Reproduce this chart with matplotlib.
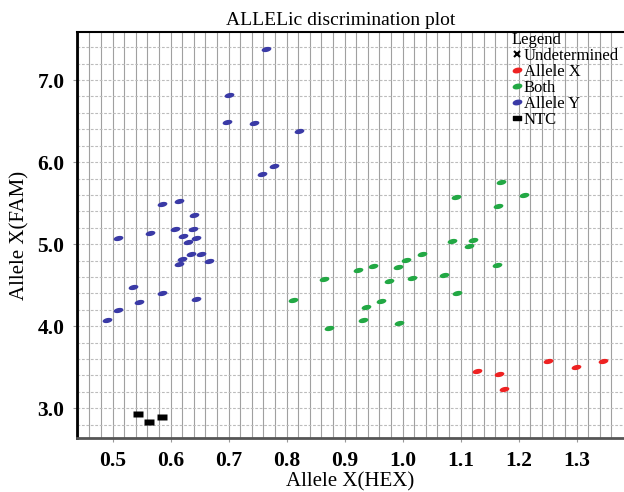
import numpy as np
import matplotlib.pyplot as plt
from matplotlib.path import Path
from matplotlib.lines import Line2D

# data
allele_y_x = [0.764, 0.700, 0.697, 0.743, 0.821, 0.758, 0.778, 0.586, 0.614, 0.640,
              0.510, 0.564, 0.607, 0.639, 0.622, 0.643, 0.630, 0.635, 0.652, 0.619,
              0.614, 0.667, 0.535, 0.585, 0.546, 0.643, 0.510, 0.491]
allele_y_y = [7.38, 6.82, 6.49, 6.48, 6.38, 5.86, 5.95, 5.49, 5.53, 5.35,
              5.07, 5.13, 5.19, 5.19, 5.10, 5.08, 5.03, 4.88, 4.88, 4.82,
              4.76, 4.79, 4.48, 4.41, 4.30, 4.33, 4.20, 4.08]

both_x = [1.170, 1.092, 1.210, 1.165, 1.086, 1.121, 1.115, 1.163, 1.034, 1.005,
          0.992, 0.949, 0.923, 0.976, 1.017, 1.071, 1.094, 0.864, 0.962, 0.937,
          0.931, 0.993, 0.873, 0.811]
both_y = [5.76, 5.58, 5.60, 5.47, 5.04, 5.05, 4.98, 4.74, 4.88, 4.81,
          4.72, 4.73, 4.69, 4.55, 4.59, 4.62, 4.41, 4.58, 4.31, 4.23,
          4.07, 4.04, 3.98, 4.32]

allele_x_x = [1.128, 1.167, 1.174, 1.251, 1.299, 1.346]
allele_x_y = [3.455, 3.42, 3.23, 3.57, 3.50, 3.58]

ntc_x = [0.543, 0.563, 0.585]
ntc_y = [2.93, 2.83, 2.89]

xticks = [0.5, 0.6, 0.7, 0.8, 0.9, 1.0, 1.1, 1.2, 1.3]
yticks = [3.0, 4.0, 5.0, 6.0, 7.0]

# marker shapes
t = np.linspace(0, 2 * np.pi, 40)
a = np.deg2rad(12)
ex, ey = np.cos(t), 0.5 * np.sin(t)
ellipse = Path(np.column_stack([ex * np.cos(a) - ey * np.sin(a),
                                ex * np.sin(a) + ey * np.cos(a)]), closed=True)
rect = Path([(-1, -0.55), (1, -0.55), (1, 0.55), (-1, 0.55), (-1, -0.55)], closed=True)

plt.rcParams['font.family'] = ['Liberation Serif', 'DejaVu Serif']

fig = plt.figure(figsize=(6.24, 4.92), dpi=100)
ax = fig.add_axes([77 / 624, 1 - 438.3 / 492, (623 - 77) / 624, (438.3 - 31.7) / 492])

ax.set_xlim(0.4386, 1.380)
ax.set_ylim(2.634, 7.589)

# grid
for gx in np.arange(0.44, 1.38, 0.02):
    ax.axvline(gx, color='#a0a0a0', lw=0.8, zorder=0)
for gy in np.arange(2.8, 7.6, 0.2):
    ax.axhline(gy, color='#bcbcbc', lw=0.8, ls=(0, (2.5, 1.5)), zorder=0)

ms = 7
ax.plot(allele_y_x, allele_y_y, ls='none', marker=ellipse, ms=ms, color='#3a3aa6', mec='none')
ax.plot(both_x, both_y, ls='none', marker=ellipse, ms=ms, color='#22a844', mec='none')
ax.plot(allele_x_x, allele_x_y, ls='none', marker=ellipse, ms=ms, color='#ee2222', mec='none')
ax.plot(ntc_x, ntc_y, ls='none', marker=rect, ms=7, color='black', mec='none')

ax.set_xticks(xticks)
ax.set_xticklabels([f'{v:.1f}' for v in xticks])
ax.set_yticks(yticks)
ax.set_yticklabels([f'{v:.1f}' for v in yticks])
ax.tick_params(length=3, width=0.8, color='#999999', labelsize=15.5, pad=6)
for lab in ax.get_xticklabels() + ax.get_yticklabels():
    lab.set_fontweight('bold')

ax.spines['left'].set_linewidth(2)
ax.spines['top'].set_linewidth(1.5)
ax.spines['bottom'].set_linewidth(2)
ax.spines['bottom'].set_color('#555555')
ax.spines['right'].set_visible(False)

ax.set_xlabel('Allele X(HEX)', fontsize=15, labelpad=1)
ax.set_ylabel('Allele X(FAM)', fontsize=15, labelpad=6)
fig.text(341 / 624, 1 - 25 / 492, 'ALLELic discrimination plot', fontsize=14,
         ha='center', va='baseline')

handles = [
    Line2D([], [], ls='none', marker='x', color='black', ms=5, mew=1.5),
    Line2D([], [], ls='none', marker=ellipse, color='#ee2222', ms=6),
    Line2D([], [], ls='none', marker=ellipse, color='#22a844', ms=6),
    Line2D([], [], ls='none', marker=ellipse, color='#3a3aa6', ms=6),
    Line2D([], [], ls='none', marker=rect, color='black', ms=6),
]
labels = ['Undetermined', 'Allele X', 'Both', 'Allele Y', 'NTC']
leg = ax.legend(handles, labels, title='Legend', loc='upper left',
                bbox_to_anchor=(512 / 624, 1 - 32 / 492), bbox_transform=fig.transFigure,
                frameon=False, fontsize=12, title_fontsize=12, handlelength=0.6,
                handletextpad=0.1, labelspacing=0.0, borderaxespad=0, borderpad=0)
leg._legend_box.align = 'left'

fig.savefig('out.png', dpi=100)
